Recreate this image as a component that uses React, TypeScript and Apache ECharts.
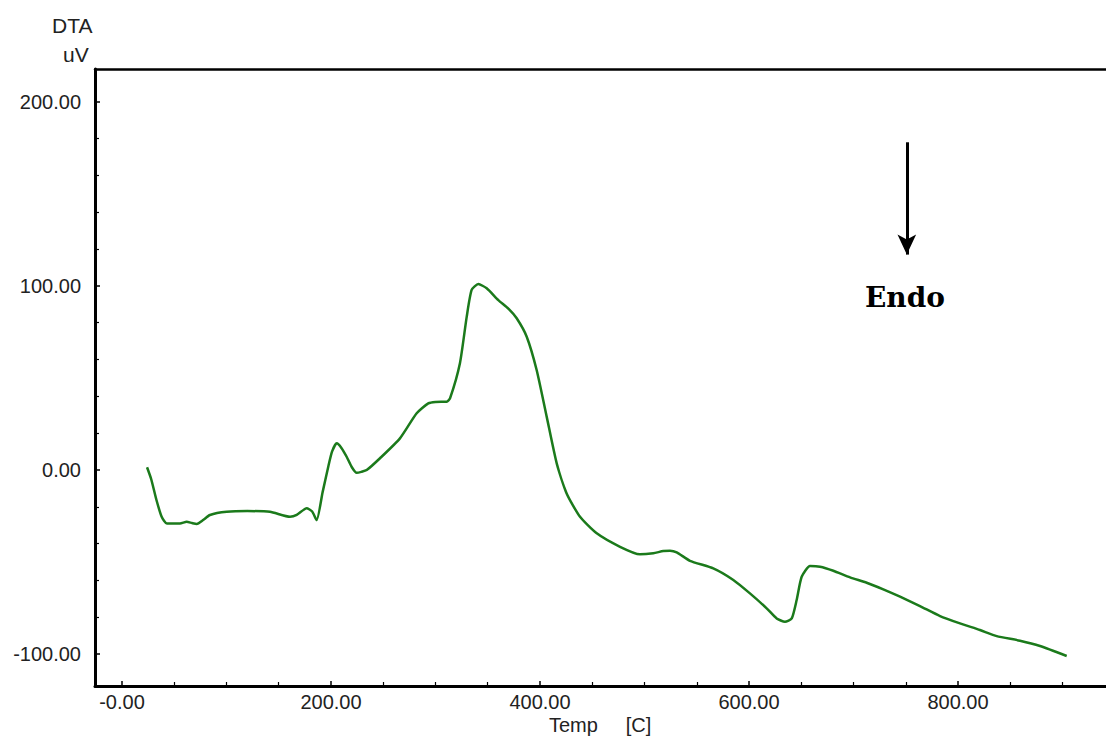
import React, { useEffect, useRef } from "react";
import * as echarts from "echarts";

const temps = [
  24, 28, 33, 38, 43, 55.5, 61.9, 67, 71.5, 78, 84.2, 100.2, 120, 141.6, 160.8, 167.2, 176.7, 182,
  186.3, 192, 197.4, 201, 205.5, 210, 215, 220, 224.6, 229, 234.2, 246.9, 266, 282, 293.1, 300,
  310.7, 313.9, 323.4, 329.9, 334.6, 341, 349, 360.1, 370, 377.7, 387.3, 396.8, 406.4, 416, 425.5,
  438.3, 454.3, 476.6, 495.7, 508.4, 518, 524.4, 530.8, 543.5, 565.8, 585, 600.9, 616.9, 626.5,
  634.4, 640.9, 645.6, 650.4, 658.4, 668, 680.7, 696.7, 712.6, 728.5, 744.5, 763.6, 782.8, 801.9,
  821, 837, 859.3, 878.5, 904,
];
const dta = [
  1.5, -5, -16.3, -25.4, -29, -29, -28.1, -28.8, -29.3, -27, -24.4, -22.7, -22.3, -22.7, -25.4,
  -24.4, -20.8, -22.5, -27.2, -12, 1.8, 10, 14.5, 12, 7.2, 1.5, -1.5, -1, 0, 6.4, 17.2, 30.8, 36.2,
  37, 37.1, 38.9, 58, 83.3, 97.8, 101, 98.7, 92.3, 87.5, 82.4, 72.4, 54.3, 29, 3.6, -12.7, -25.4,
  -34.4, -41.7, -45.8, -45.2, -44, -43.8, -44.7, -49.3, -53.4, -59.7, -67, -75.1, -80.6, -82.4,
  -80.6, -70.6, -58, -52.1, -52.5, -54.7, -58.3, -61.2, -64.8, -68.8, -73.9, -79.3, -83.3, -86.9,
  -90.2, -92.7, -95.6, -101,
];
const xMajor = [0, 200, 400, 600, 800];
const xMinor = [50, 100, 150, 250, 300, 350, 450, 500, 550, 650, 700, 750, 850, 900];
const yMajor = [-100, 0, 100, 200];
const yMinor = [-80, -60, -40, -20, 20, 40, 60, 80, 120, 140, 160, 180];
const arrowStart = [751, 178];
const arrowEnd = [751, 117];

const FONT = "'Liberation Sans', Arial, sans-serif";
const X_MIN = -25.8;
const X_MAX = 941.6;
const Y_MIN = -117.3;
const Y_MAX = 217.8;

export default function App() {
  const ref = useRef<HTMLDivElement>(null);
  useEffect(() => {
    if (!ref.current) return;
    const chart = echarts.init(ref.current, null, { renderer: "svg" });
    const axisLine = { show: true, onZero: false, lineStyle: { color: "#000", width: 3 } };
    chart.setOption({
      animation: false,
      backgroundColor: "#fff",
      grid: {
        left: 95,
        top: 69,
        right: 0,
        bottom: 56,
        show: false,
        outerBoundsMode: "none",
      },
      xAxis: [
        {
          type: "value",
          min: X_MIN,
          max: X_MAX,
          position: "bottom",
          axisLine,
          splitLine: { show: false },
          axisTick: { show: true, inside: true, length: 5, customValues: xMajor, lineStyle: { color: "#000", width: 1.5 } },
          axisLabel: {
            customValues: xMajor,
            margin: 6,
            fontFamily: FONT,
            fontSize: 20,
            color: "#222",
            formatter: (v: number) => (v === 0 ? "-0.00" : v.toFixed(2)),
          },
        },
        {
          type: "value",
          min: X_MIN,
          max: X_MAX,
          position: "bottom",
          axisLine: { show: false, onZero: false },
          splitLine: { show: false },
          axisTick: { show: true, inside: true, length: 4, customValues: xMinor, lineStyle: { color: "#000", width: 1.2 } },
          axisLabel: { show: false },
        },
        {
          type: "value",
          min: X_MIN,
          max: X_MAX,
          position: "top",
          axisLine: { show: true, onZero: false, lineStyle: { color: "#000", width: 2.5 } },
          splitLine: { show: false },
          axisTick: { show: false },
          axisLabel: { show: false },
        },
      ],
      yAxis: [
        {
          type: "value",
          min: Y_MIN,
          max: Y_MAX,
          position: "left",
          axisLine,
          splitLine: { show: false },
          axisTick: { show: true, inside: true, length: 5, customValues: yMajor, lineStyle: { color: "#000", width: 1.5 } },
          axisLabel: {
            customValues: yMajor,
            margin: 14,
            fontFamily: FONT,
            fontSize: 20,
            color: "#222",
            formatter: (v: number) => v.toFixed(2),
          },
        },
        {
          type: "value",
          min: Y_MIN,
          max: Y_MAX,
          position: "left",
          axisLine: { show: false, onZero: false },
          splitLine: { show: false },
          axisTick: { show: true, inside: true, length: 4, customValues: yMinor, lineStyle: { color: "#000", width: 1.2 } },
          axisLabel: { show: false },
        },
      ],
      series: [
        {
          type: "line",
          xAxisIndex: 0,
          yAxisIndex: 0,
          data: temps.map((t, i) => [t, dta[i]]),
          showSymbol: false,
          smooth: 0.2,
          lineStyle: { color: "#1b7a1b", width: 2.5 },
          markLine: {
            silent: true,
            symbol: ["none", "arrow"],
            symbolSize: [14, 20],
            label: { show: false },
            lineStyle: { color: "#000", width: 3, type: "solid" },
            data: [[{ coord: arrowStart }, { coord: arrowEnd }]],
          },
        },
      ],
      graphic: [
        {
          type: "text",
          left: 52,
          top: 15,
          style: { text: "DTA", fontFamily: FONT, fontSize: 21, fill: "#222" },
        },
        {
          type: "text",
          left: 63,
          top: 44,
          style: { text: "uV", fontFamily: FONT, fontSize: 21, fill: "#222" },
        },
        {
          type: "text",
          left: 549,
          top: 715,
          style: { text: "Temp     [C]", fontFamily: FONT, fontSize: 20, fill: "#222" },
        },
        {
          type: "text",
          left: 865,
          top: 283,
          style: {
            text: "Endo",
            fontFamily: "'DejaVu Serif', serif",
            fontWeight: 900,
            fontSize: 28,
            fill: "#000",
          },
        },
      ],
    });
    return () => chart.dispose();
  }, []);
  return (
    <div
      ref={ref}
      style={{ position: "fixed", left: 0, top: 0, width: 1106, height: 742, background: "#fff" }}
    />
  );
}
